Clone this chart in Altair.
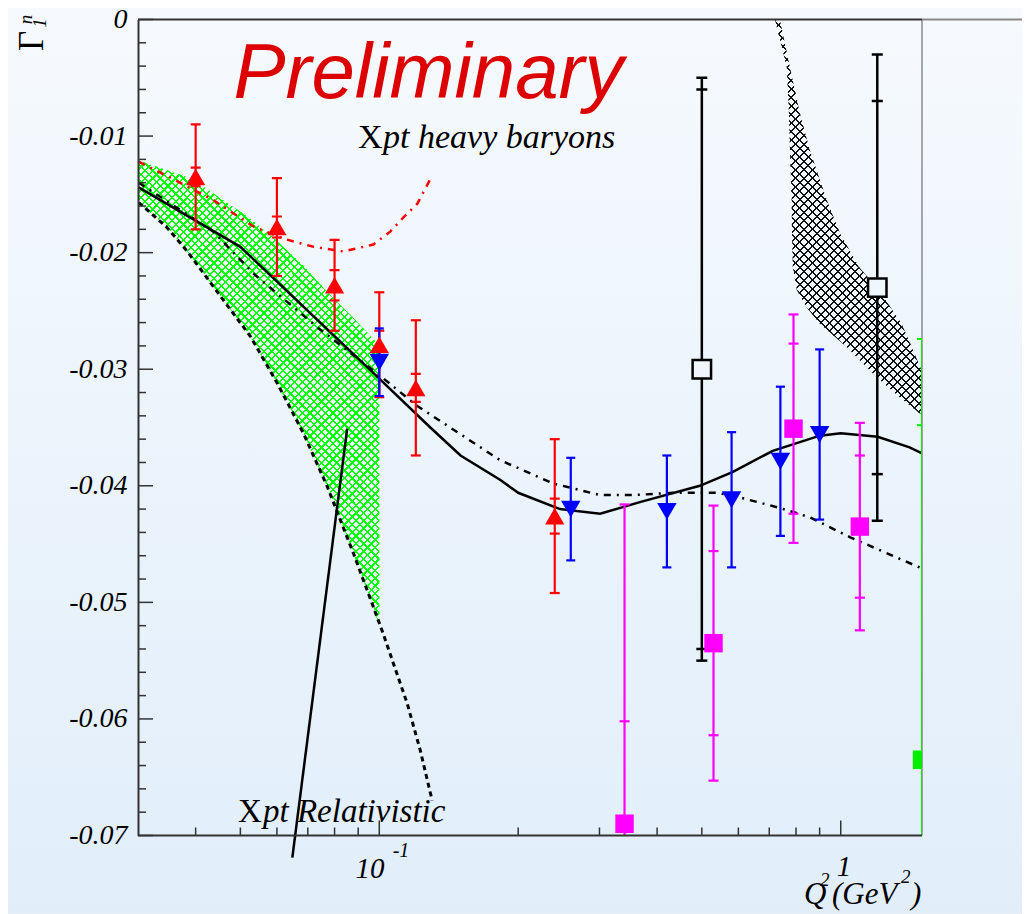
import altair as alt
import pandas as pd

# ---------------- data ----------------
# red up-triangles (stat + total errors)
red_q = [0.04, 0.06, 0.08, 0.10, 0.12, 0.24]
red_v = [-0.0135, -0.0178, -0.0228, -0.0279, -0.0316, -0.0426]
red_tot = [0.0045, 0.0042, 0.0039, 0.0045, 0.0058, 0.0066]
red_stat = [0.0008, 0.0009, 0.0013, 0.0012, 0.0012, 0.0015]

# blue down-triangles
blue_q = [0.10, 0.26, 0.42, 0.58, 0.74, 0.90]
blue_v = [-0.0294, -0.0420, -0.0422, -0.0412, -0.0379, -0.0356]
blue_err = [0.0029, 0.0044, 0.0048, 0.0058, 0.0064, 0.0073]

# magenta squares
mag_q = [0.34, 0.53, 0.79, 1.10]
mag_v = [-0.0690, -0.0535, -0.0351, -0.0435]
mag_tot = [0.0274, 0.0118, 0.0098, 0.0089]
mag_stat = [0.0088, 0.0079, 0.0073, 0.0061]

# black open squares
open_q = [0.50, 1.20]
open_v = [-0.0300, -0.0230]
open_tot = [0.0250, 0.0200]
open_stat = [0.0240, 0.0160]

# green square at the right edge
green_q = [1.50]
green_v = [-0.0635]
green_tot = [0.0361]
green_stat = [0.0287]

# solid black curve
full_q = [0.0301, 0.0500, 0.100, 0.129, 0.150, 0.183, 0.200, 0.2465, 0.301, 0.367,
          0.495, 0.584, 0.7125, 0.901, 1.0, 1.2025, 1.41, 1.497]
full_v = [-0.0144, -0.0195, -0.0308, -0.0350, -0.0374, -0.0395, -0.0406, -0.0420, -0.0424, -0.0414,
          -0.0400, -0.0388, -0.0370, -0.0357, -0.0355, -0.0358, -0.0367, -0.0372]

# black dash-dotted curve
dd_q = [0.0301, 0.0437, 0.0534, 0.0734, 0.100, 0.1203, 0.1827, 0.238, 0.301, 0.355,
        0.433, 0.539, 0.6045, 0.738, 0.857, 1.046, 1.461, 1.50]
dd_v = [-0.0140, -0.0182, -0.0218, -0.0264, -0.0305, -0.0331, -0.0378, -0.0398, -0.0408, -0.0408,
        -0.0406, -0.0406, -0.0410, -0.0419, -0.0427, -0.0444, -0.0469, -0.0471]

# Xpt relativistic (black dashed)
rel_q = [0.0301, 0.0346, 0.0382, 0.0422, 0.0526, 0.0601, 0.0685, 0.0772, 0.0879, 0.0971,
         0.1020, 0.1072, 0.1150, 0.1227, 0.1302]
rel_v = [-0.0157, -0.0178, -0.0198, -0.0221, -0.0272, -0.0312, -0.0355, -0.0401, -0.0458, -0.0504,
         -0.0527, -0.0552, -0.0587, -0.0627, -0.0670]

# Xpt heavy baryons (red dash-dotted)
hb_q = [0.0301, 0.0346, 0.0437, 0.0536, 0.0620, 0.0720, 0.0836, 0.0971, 0.1056, 0.1127,
        0.1209, 0.1270, 0.1302]
hb_v = [-0.0122, -0.0134, -0.0155, -0.0178, -0.0188, -0.0195, -0.0199, -0.0193, -0.0182, -0.0170,
        -0.0158, -0.0142, -0.0134]

# green hatched band
band_q = [0.0301, 0.0346, 0.0382, 0.0422, 0.0526, 0.0601, 0.0685, 0.0772, 0.0879, 0.0971, 0.1]
band_hi = [-0.0121, -0.0129, -0.0135, -0.0145, -0.0171, -0.0190, -0.0211, -0.0234, -0.0256, -0.0274, -0.0279]
band_lo = [-0.0157, -0.0178, -0.0198, -0.0221, -0.0272, -0.0312, -0.0355, -0.0401, -0.0458, -0.0504, -0.0521]

# black hatched band (given as left/right Q at each Gamma)
bb_v = [0.0, -0.0041, -0.0080, -0.0112, -0.0155, -0.0183, -0.0212, -0.0232, -0.0247, -0.0261,
        -0.0281, -0.0307, -0.0324, -0.0338]
bb_left = [0.720, 0.764, 0.772, 0.776, 0.783, 0.784, 0.787, 0.803, 0.844, 0.901,
           1.030, 1.197, 1.342, 1.483]
bb_right = [0.738, 0.776, 0.815, 0.857, 0.933, 0.995, 1.094, 1.209, 1.283, 1.355,
            1.425, 1.52, 1.52, 1.52]

# pointer line from the "Xpt Relativistic" label
ptr_q = [0.0648, 0.0852]
ptr_v = [-0.0719, -0.0351]

# axis ticks
x_minor = [0.04, 0.05, 0.06, 0.07, 0.08, 0.09, 0.2, 0.3, 0.4, 0.5, 0.6, 0.7, 0.8, 0.9]
x_major = [0.1, 1.0]
y_major = [0.0, -0.01, -0.02, -0.03, -0.04, -0.05, -0.06, -0.07]
y_minor = [round(-0.002 * k, 3) for k in range(1, 35) if k % 5 != 0]

# ---------------- layout ----------------
W, H = 784, 816
PAD = {"left": 130, "top": 11.5, "right": 100, "bottom": 78}

xscale = alt.Scale(type="log", domain=[0.03, 1.5], nice=False)
yscale = alt.Scale(domain=[-0.07, 0.0], nice=False, zero=False)
yaxis = alt.Axis(values=y_major,
                 labelExpr="datum.value == 0 ? '0' : '-0.0' + round(-datum.value*100)",
                 labelFont="Liberation Serif", labelFontStyle="italic", labelFontSize=28,
                 labelColor="black", labelPadding=11, ticks=False, domain=True,
                 domainColor="#333333", domainWidth=2, grid=False, title=None,
                 labelOverlap=False, labelFlush=False, zindex=1)


def X(f):
    return alt.X(f, type="quantitative", scale=xscale, axis=None)


def Y(f):
    return alt.Y(f, type="quantitative", scale=yscale, axis=yaxis)


def hatch(color, n, frac, w, h, direction):
    M = max(w, h)
    a0, b0 = w / M, h / M
    s = (a0 + b0) / (a0 * a0 + b0 * b0)
    a, b = s * a0, s * b0
    if direction == 1:
        x1, y1, x2, y2 = 0, 0, a, b
    else:
        x1, y1, x2, y2 = 0, 1, a, 1 - b
    stops = []
    for i in range(n):
        o0, o1, o2 = i / n, (i + frac) / n, (i + 1) / n
        stops += [{"offset": o0, "color": color}, {"offset": o1, "color": color},
                  {"offset": o1, "color": "rgba(0,0,0,0)"}, {"offset": o2, "color": "rgba(0,0,0,0)"}]
    return {"gradient": "linear", "x1": x1, "y1": y1, "x2": x2, "y2": y2, "stops": stops}


one = pd.DataFrame({"a": [0]})

layers = []

# background gradient
bg = alt.Chart(one).mark_rect(
    clip=False,
    fill={"gradient": "linear", "x1": 0, "y1": 0, "x2": 0, "y2": 1,
          "stops": [{"offset": 0, "color": "#f6fafe"}, {"offset": 1, "color": "#e1eefa"}]},
).encode(x=alt.value(-PAD["left"]), x2=alt.value(W + PAD["right"]),
         y=alt.value(-PAD["top"]), y2=alt.value(H + PAD["bottom"]))
layers.append(bg)

# right frame line
layers.append(alt.Chart(one).mark_rule(color="#555555", strokeWidth=1)
              .encode(x=alt.value(W), y=alt.value(0), y2=alt.value(H)))

# green hatched band
band_df = pd.DataFrame({"q": band_q, "hi": band_hi, "lo": band_lo})
for d in (1, 2):
    layers.append(alt.Chart(band_df).mark_area(
        clip=True, opacity=1, fill=hatch("#00ff00", 92, 0.3, 241, 466, d))
        .encode(x=X("q"), y=Y("hi"), y2=alt.Y2("lo")))

# black hatched band
bb_df = pd.DataFrame({"v": bb_v, "l": bb_left, "r": bb_right})
for d in (1, 2):
    layers.append(alt.Chart(bb_df).mark_area(
        clip=True, opacity=1, orient="horizontal", fill=hatch("#111111", 64, 0.24, 150, 394, d))
        .encode(y=Y("v"), x=X("l"), x2=alt.X2("r")))


# curves
def curve(q, v, color, width, dash=None):
    df = pd.DataFrame({"q": q, "v": v})
    kw = dict(color=color, strokeWidth=width, clip=True)
    if dash:
        kw["strokeDash"] = dash
    return alt.Chart(df).mark_line(**kw).encode(x=X("q"), y=Y("v"))


layers.append(curve(hb_q, hb_v, "#ff0000", 2.5, [7, 6, 2, 6]))
layers.append(curve(rel_q, rel_v, "#000000", 3, [5, 4]))
layers.append(curve(dd_q, dd_v, "#000000", 2.5, [7, 6, 2, 6]))
layers.append(curve(full_q, full_v, "#000000", 2.5))

ptr_df = pd.DataFrame({"q": ptr_q, "v": ptr_v})
layers.append(alt.Chart(ptr_df).mark_line(color="black", strokeWidth=2.5, clip=False)
              .encode(x=X("q"), y=Y("v")))


# error bars
def errbars(q, v, tot, stat, color, capw, sw):
    rows, caps = [], []
    for i in range(len(q)):
        rows.append({"q": q[i], "lo": v[i] - tot[i], "hi": v[i] + tot[i]})
        caps += [{"q": q[i], "c": v[i] - tot[i]}, {"q": q[i], "c": v[i] + tot[i]}]
        if stat:
            caps += [{"q": q[i], "c": v[i] - stat[i]}, {"q": q[i], "c": v[i] + stat[i]}]
    r = alt.Chart(pd.DataFrame(rows)).mark_rule(color=color, strokeWidth=sw, clip=True).encode(
        x=X("q"), y=Y("lo"), y2=alt.Y2("hi"))
    c = alt.Chart(pd.DataFrame(caps)).mark_tick(color=color, orient="horizontal", size=capw,
                                               thickness=sw, opacity=1, clip=True).encode(
        x=X("q"), y=Y("c"))
    return [r, c]


layers += errbars(red_q, red_v, red_tot, red_stat, "#ff0000", 10, 2.2)
layers += errbars(blue_q, blue_v, blue_err, None, "#0000ff", 9, 2.2)
layers += errbars(mag_q, mag_v, mag_tot, mag_stat, "#ff00ff", 10, 2.2)
layers += errbars(open_q, open_v, open_tot, open_stat, "#000000", 11, 2.5)
layers += errbars(green_q, green_v, green_tot, green_stat, "#00ee00", 10, 2)


def markers(q, v, **kw):
    df = pd.DataFrame({"q": q, "v": v})
    return alt.Chart(df).mark_point(opacity=1, clip=True, **kw).encode(x=X("q"), y=Y("v"))


layers.append(markers(red_q, red_v, shape="triangle-up", filled=True, size=370, color="#ff0000"))
layers.append(markers(blue_q, blue_v, shape="triangle-down", filled=True, size=380, color="#0000ff"))
layers.append(markers(mag_q, mag_v, shape="square", filled=True, size=340, color="#ff00ff"))
layers.append(markers(open_q, open_v, shape="square", filled=True, size=340, fill="#eff6fd",
                      stroke="#000000", strokeWidth=2.5))
layers.append(markers(green_q, green_v, shape="square", filled=True, size=340, color="#00ee00"))


# axis ticks (inward)
def xticks(vals, ln):
    return alt.Chart(pd.DataFrame({"q": vals})).mark_rule(color="#333333", strokeWidth=1.5).encode(
        x=X("q"), y=alt.value(H), y2=alt.value(H - ln))


def yticks(vals, ln):
    return alt.Chart(pd.DataFrame({"v": vals})).mark_rule(color="#333333", strokeWidth=1.5).encode(
        y=Y("v"), x=alt.value(0), x2=alt.value(ln))


layers += [xticks(x_minor, 8), xticks(x_major, 15), yticks(y_minor, 8), yticks(y_major, 15)]

# frame: bottom and top
layers.append(alt.Chart(one).mark_rule(color="#333333", strokeWidth=2)
              .encode(x=alt.value(0), x2=alt.value(W), y=alt.value(H)))
layers.append(alt.Chart(one).mark_rule(color="#333333", strokeWidth=2)
              .encode(x=alt.value(0), x2=alt.value(W), y=alt.value(0)))
layers.append(alt.Chart(one).mark_rule(color="#888888", strokeWidth=2, clip=False)
              .encode(x=alt.value(W), x2=alt.value(W + 102), y=alt.value(0)))


# text
def txt(s, x, y, size, font="Liberation Serif", style="normal", align="left",
        baseline="alphabetic", color="black", angle=0):
    return alt.Chart(one).mark_text(text=s, font=font, fontSize=size, fontStyle=style, align=align,
                                    baseline=baseline, color=color, angle=angle, clip=False).encode(
        x=alt.value(x), y=alt.value(y))


layers.append(txt("Preliminary", 290.5, 78.5, 78, font="Liberation Sans", style="italic",
                  align="center", color="#dd0000"))
layers.append(txt("X", 220, 128.5, 34))
layers.append(txt("pt heavy baryons", 245, 128.5, 34, style="italic"))
layers.append(txt("X", 100, 802.5, 33))
layers.append(txt("pt Relativistic", 125, 802.5, 33, style="italic"))

# x tick labels
layers.append(txt("10", 232, 858.5, 29, style="italic", align="center"))
layers.append(txt("-1", 263, 837.5, 20, style="italic", align="center"))
layers.append(txt("1", 706, 856, 29, style="italic", align="center"))

# x title Q^2(GeV^2)
layers.append(txt("Q", 666, 884, 31, style="italic"))
layers.append(txt("2", 682, 866, 19, style="italic"))
layers.append(txt("(GeV", 694, 884, 31, style="italic"))
layers.append(txt("2", 763, 863, 19, style="italic"))
layers.append(txt(")", 773, 884, 31, style="italic"))

# y title Gamma_1^n (rotated)
layers.append(txt("Γ", -106, 21.5, 35, align="center", baseline="middle", angle=270))
layers.append(txt("1", -98, 3.5, 19, style="italic", align="center", baseline="middle", angle=270))
layers.append(txt("n", -112, 0, 19, style="italic", align="center", baseline="middle", angle=270))

chart = alt.layer(*layers).properties(
    width=W, height=H, padding=PAD, autosize=alt.AutoSizeParams(type="none"),
    background="#eaf3fc",
).configure_view(strokeWidth=0)

chart.save("out.html", embed_options={"renderer": "svg", "actions": False})
